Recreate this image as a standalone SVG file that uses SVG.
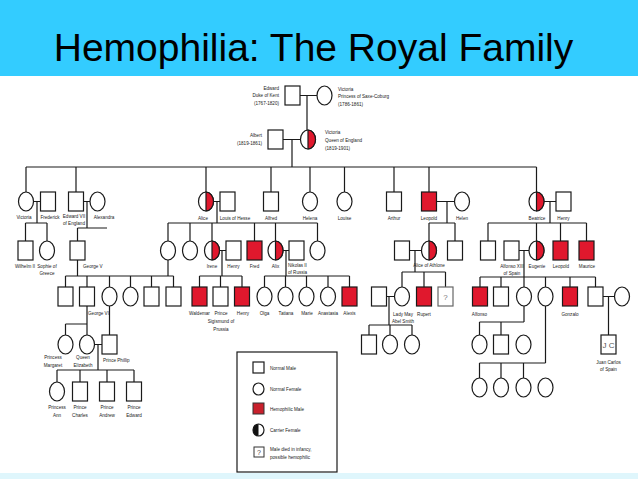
<svg xmlns="http://www.w3.org/2000/svg" width="638" height="479" viewBox="0 0 638 479">
<style>
.m{fill:#fff;stroke:#1a1a1a;stroke-width:1.2}
.f{fill:#fff;stroke:#1a1a1a;stroke-width:1.2}
.h{fill:#e0182d;stroke:#1a1a1a;stroke-width:1.2}
.c{fill:#e0182d;stroke:#1a1a1a;stroke-width:1.2}
.ln{fill:none;stroke:#1a1a1a;stroke-width:1.2}
text{font-family:"Liberation Sans",Arial,sans-serif;fill:#222}
.t{font-size:4.6px;text-anchor:middle}
.ts{font-size:4.6px}
.te{font-size:4.6px;text-anchor:end}
.lg{font-size:4.6px}
</style>
<rect x="0" y="0" width="638" height="76" fill="#33ccff"/>
<text x="313.5" y="61" font-size="39" text-anchor="middle" style="fill:#000">Hemophilia: The Royal Family</text>
<rect x="0" y="473" width="638" height="6" fill="#dff6fc"/>

<g id="connectors">
<path class="ln" d="M300,95.5H317M307,95.5V130M283,139.5H300.5M292,139.5V167M26,167H536.5
M26,167V192M76,167V192M206,167V192M271,167V192M310,167V192M344.5,167V192M394,167V192M429,167V192M536.5,167V192
M33.5,201.5H40.5M37,201.5V223M25.5,223H47M25.5,223V241M47,223V241
M83.5,201.5H90M87,201.5V228M77.5,228H107M77.5,228V241
M213.5,201.5H220M217,201.5V223M168,223H317.5M168,223V241M190,223V241M212,223V241M254.5,223V241M275.5,223V241M317.5,223V241
M436.5,201.5H454.5M447,201.5V223M429,223H455M429,223V241M455,223V241
M544,201.5H556M550,201.5V223M488,223H586.5M488,223V241M536.5,223V241M560.5,223V241M586.5,223V241
M219.5,250.5H226M222,250.5V276M199.5,276H242M199.5,276V287M220.5,276V287M242,276V287
M283,250.5H289M286,250.5V276M264.5,276H349.5M264.5,276V287M285.5,276V287M306.5,276V287M328,276V287M349.5,276V287
M77.5,260V276M65.5,276H173.5M65.5,276V287M87,276V287M109.5,276V287M130.5,276V287M151.5,276V287M173.5,276V287M168,260V276
M409.5,250.5H421.5M415,250.5V272M402,272H445.5M402,272V287M424,272V287M445.5,272V287
M519,250.5H529M524,250.5V277M480,277H595.5M480,277V287M501,277V287M524,277V287M545.5,277V287M570,277V287M595.5,277V287
M87,306V324M65.5,324H87M65.5,324V335M87,324V335M109.5,306V335
M386.5,296.5H394.5M389,296.5V325M369,325H412M369,325V335M390,325V335M412,325V335
M603,296.5H614.5M608.5,296.5V335
M524,306V322M479.5,322H524M479.5,322V335M501,322V335
M545.5,306V363M479.5,363H545.5M479.5,363V378M501,363V378M523.5,363V378
M94,344.5H102M98,344.5V370M57,370H134M57,370V382M80,370V382M107,370V382M134,370V382"/>
</g>

<!-- Generation 0 -->
<g id="edward-kent"><rect class="m" x="285" y="86" width="15" height="19"/>
<text class="te" x="279" y="90">Edward</text><text class="te" x="279" y="97">Duke of Kent</text><text class="te" x="279" y="105">(1767-1820)</text></g>
<g id="victoria-saxe"><ellipse class="f" cx="324.5" cy="95.5" rx="7.5" ry="9.5"/>
<text class="ts" x="338" y="91">Victoria</text><text class="ts" x="338" y="98">Princess of Saxe-Coburg</text><text class="ts" x="338" y="106">(1786-1861)</text></g>

<!-- Generation 1 -->
<g id="albert"><rect class="m" x="268" y="130" width="15" height="19"/>
<text class="te" x="262" y="137">Albert</text><text class="te" x="262" y="145">(1819-1861)</text></g>
<g id="queen-victoria"><ellipse class="f" cx="308" cy="139.5" rx="7.5" ry="9.5"/><path class="c" d="M308,130A7.5,9.5 0 0 1 308,149Z"/>
<text class="ts" x="325" y="134">Victoria</text><text class="ts" x="325" y="142">Queen of England</text><text class="ts" x="325" y="150">(1819-1901)</text></g>

<!-- Generation 2 -->
<g id="victoria-pr"><ellipse class="f" cx="26" cy="201.5" rx="7.5" ry="9.5"/><text class="t" x="24" y="219">Victoria</text></g>
<g id="frederick"><rect class="m" x="40.5" y="192" width="15" height="19"/><text class="t" x="50" y="219">Frederick</text></g>
<g id="edward-vii"><rect class="m" x="68.5" y="192" width="15" height="19"/><text class="t" x="74" y="218">Edward VII</text><text class="t" x="74" y="225">of England</text></g>
<g id="alexandra"><ellipse class="f" cx="97.5" cy="201.5" rx="7.5" ry="9.5"/><text class="t" x="104" y="219">Alexandra</text></g>
<g id="alice"><ellipse class="f" cx="206" cy="201.5" rx="7.5" ry="9.5"/><path class="c" d="M206,192A7.5,9.5 0 0 1 206,211Z"/><text class="t" x="203" y="220">Alice</text></g>
<g id="louis-hesse"><rect class="m" x="220" y="192" width="15" height="19"/><text class="t" x="235" y="220">Louis of Hesse</text></g>
<g id="alfred"><rect class="m" x="263.5" y="192" width="15" height="19"/><text class="t" x="271" y="220">Alfred</text></g>
<g id="helena"><ellipse class="f" cx="310" cy="201.5" rx="7.5" ry="9.5"/><text class="t" x="310" y="220">Helena</text></g>
<g id="louise"><ellipse class="f" cx="344.5" cy="201.5" rx="7.5" ry="9.5"/><text class="t" x="344.5" y="220">Louise</text></g>
<g id="arthur"><rect class="m" x="386.5" y="192" width="15" height="19"/><text class="t" x="394" y="220">Arthur</text></g>
<g id="leopold"><rect class="h" x="421.5" y="192" width="15" height="19"/><text class="t" x="429" y="220">Leopold</text></g>
<g id="helen"><ellipse class="f" cx="462" cy="201.5" rx="7.5" ry="9.5"/><text class="t" x="462" y="220">Helen</text></g>
<g id="beatrice"><ellipse class="f" cx="536.5" cy="201.5" rx="7.5" ry="9.5"/><path class="c" d="M536.5,192A7.5,9.5 0 0 1 536.5,211Z"/><text class="t" x="537" y="220">Beatrice</text></g>
<g id="henry-b"><rect class="m" x="556" y="192" width="15" height="19"/><text class="t" x="563.5" y="220">Henry</text></g>

<!-- Generation 3 -->
<g id="wilhelm-ii"><rect class="m" x="18" y="241" width="15" height="19"/><text class="t" x="25" y="268">Wilhelm II</text></g>
<g id="sophie"><ellipse class="f" cx="47" cy="250.5" rx="7.5" ry="9.5"/><text class="t" x="47" y="268">Sophie of</text><text class="t" x="47" y="275">Greece</text></g>
<g id="george-v"><rect class="m" x="70" y="241" width="15" height="19"/><text class="ts" x="83" y="268">George V</text></g>
<g id="victoria-h"><ellipse class="f" cx="168" cy="250.5" rx="7.5" ry="9.5"/></g>
<g id="ella"><ellipse class="f" cx="190" cy="250.5" rx="7.5" ry="9.5"/></g>
<g id="irene"><ellipse class="f" cx="212" cy="250.5" rx="7.5" ry="9.5"/><path class="c" d="M212,241A7.5,9.5 0 0 1 212,260Z"/><text class="t" x="212" y="268">Irene</text></g>
<g id="henry-p"><rect class="m" x="226" y="241" width="15" height="19"/><text class="t" x="233.5" y="268">Henry</text></g>
<g id="fred"><rect class="h" x="247" y="241" width="15" height="19"/><text class="t" x="254.5" y="268">Fred</text></g>
<g id="alix"><ellipse class="f" cx="275.5" cy="250.5" rx="7.5" ry="9.5"/><path class="c" d="M275.5,241A7.5,9.5 0 0 1 275.5,260Z"/><text class="t" x="275.5" y="268">Alix</text></g>
<g id="nikolas-ii"><rect class="m" x="289" y="241" width="15" height="19"/><text class="ts" x="288" y="267">Nikolas II</text><text class="ts" x="288" y="274">of Russia</text></g>
<g id="marie-h"><ellipse class="f" cx="317.5" cy="250.5" rx="7.5" ry="9.5"/></g>
<g id="athlone"><rect class="m" x="394.5" y="241" width="15" height="19"/></g>
<g id="alice-athlone"><ellipse class="f" cx="429" cy="250.5" rx="7.5" ry="9.5"/><path class="c" d="M429,241A7.5,9.5 0 0 1 429,260Z"/><text class="t" x="429" y="267">Alice of Athlone</text></g>
<g id="charles-edward"><rect class="m" x="447.5" y="241" width="15" height="19"/></g>
<g id="alexander-b"><rect class="m" x="480.5" y="241" width="15" height="19"/></g>
<g id="alfonso-xiii"><rect class="m" x="504" y="241" width="15" height="19"/><text class="t" x="512" y="268">Alfonso XIII</text><text class="t" x="512" y="275">of Spain</text></g>
<g id="eugenie"><ellipse class="f" cx="536.5" cy="250.5" rx="7.5" ry="9.5"/><path class="c" d="M536.5,241A7.5,9.5 0 0 1 536.5,260Z"/><text class="t" x="537" y="268">Eugenie</text></g>
<g id="leopold-b"><rect class="h" x="553" y="241" width="15" height="19"/><text class="t" x="561" y="268">Leopold</text></g>
<g id="maurice"><rect class="h" x="579" y="241" width="15" height="19"/><text class="t" x="587" y="268">Maurice</text></g>

<!-- Generation 4 -->
<g id="gv-c1"><rect class="m" x="58" y="287" width="15" height="19"/></g>
<g id="george-vi"><rect class="m" x="79.5" y="287" width="15" height="19"/><text class="ts" x="88" y="315">George VI</text></g>
<g id="gv-c3"><ellipse class="f" cx="109.5" cy="296.5" rx="7.5" ry="9.5"/></g>
<g id="gv-c4"><ellipse class="f" cx="130.5" cy="296.5" rx="7.5" ry="9.5"/></g>
<g id="gv-c5"><rect class="m" x="144" y="287" width="15" height="19"/></g>
<g id="gv-c6"><rect class="m" x="166" y="287" width="15" height="19"/></g>
<g id="waldemar"><rect class="h" x="192" y="287" width="15" height="19"/><text class="t" x="199.5" y="315">Waldemar</text></g>
<g id="sigismund"><rect class="m" x="213" y="287" width="15" height="19"/><text class="t" x="221" y="315">Prince</text><text class="t" x="221" y="323">Sigismund of</text><text class="t" x="221" y="331">Prussia</text></g>
<g id="henry-i"><rect class="h" x="234.5" y="287" width="15" height="19"/><text class="t" x="243" y="315">Henry</text></g>
<g id="olga"><ellipse class="f" cx="264.5" cy="296.5" rx="7.5" ry="9.5"/><text class="t" x="264.5" y="315">Olga</text></g>
<g id="tatiana"><ellipse class="f" cx="285.5" cy="296.5" rx="7.5" ry="9.5"/><text class="t" x="286" y="315">Tatiana</text></g>
<g id="marie"><ellipse class="f" cx="306.5" cy="296.5" rx="7.5" ry="9.5"/><text class="t" x="307" y="315">Marie</text></g>
<g id="anastasia"><ellipse class="f" cx="328" cy="296.5" rx="7.5" ry="9.5"/><text class="t" x="328" y="315">Anastasia</text></g>
<g id="alexis"><rect class="h" x="342" y="287" width="15" height="19"/><text class="t" x="349.5" y="315">Alexis</text></g>
<g id="abel-smith"><rect class="m" x="371.5" y="287" width="15" height="19"/></g>
<g id="lady-may"><ellipse class="f" cx="402" cy="296.5" rx="7.5" ry="9.5"/><text class="t" x="403" y="316">Lady May</text><text class="t" x="403" y="323">Abel Smith</text></g>
<g id="rupert"><rect class="h" x="416.5" y="287" width="15" height="19"/><text class="t" x="424" y="316">Rupert</text></g>
<g id="maurice-a"><rect x="438" y="287" width="15" height="19" fill="#fff" stroke="#666" stroke-width="1.2"/><text x="445.5" y="300" font-size="8" text-anchor="middle" style="fill:#777">?</text></g>
<g id="alfonso"><rect class="h" x="472.5" y="287" width="15" height="19"/><text class="t" x="479.5" y="316">Alfonso</text></g>
<g id="jaime"><rect class="m" x="493.5" y="287" width="15" height="19"/></g>
<g id="beatriz"><ellipse class="f" cx="524" cy="296.5" rx="7.5" ry="9.5"/></g>
<g id="maria-cristina"><ellipse class="f" cx="545.5" cy="296.5" rx="7.5" ry="9.5"/></g>
<g id="gonzalo"><rect class="h" x="562.5" y="287" width="15" height="19"/><text class="t" x="570" y="316">Gonzalo</text></g>
<g id="juan"><rect class="m" x="588" y="287" width="15" height="19"/></g>
<g id="maria-mercedes"><ellipse class="f" cx="622" cy="296.5" rx="7.5" ry="9.5"/></g>

<!-- Generation 5 -->
<g id="margaret"><ellipse class="f" cx="65.5" cy="344.5" rx="7.5" ry="9.5"/><text class="t" x="53" y="359">Princess</text><text class="t" x="53" y="367">Margaret</text></g>
<g id="elizabeth"><ellipse class="f" cx="87" cy="344.5" rx="7.5" ry="9.5"/><text class="t" x="83" y="359">Queen</text><text class="t" x="83" y="367">Elizabeth</text></g>
<g id="philip"><rect class="m" x="102" y="335" width="15" height="19"/><text class="ts" x="103" y="362">Prince Phillip</text></g>
<g id="lm-c1"><rect class="m" x="361.5" y="335" width="15" height="19"/></g>
<g id="lm-c2"><ellipse class="f" cx="390" cy="344.5" rx="7.5" ry="9.5"/></g>
<g id="lm-c3"><ellipse class="f" cx="412" cy="344.5" rx="7.5" ry="9.5"/></g>
<g id="bz-c1"><ellipse class="f" cx="479.5" cy="344.5" rx="7.5" ry="9.5"/></g>
<g id="bz-c2"><rect class="m" x="493.5" y="335" width="15" height="19"/></g>
<g id="bz-c3"><ellipse class="f" cx="523.5" cy="344.5" rx="7.5" ry="9.5"/></g>
<g id="juan-carlos"><rect class="m" x="601" y="335" width="15" height="19"/><text x="608.5" y="348" font-size="8" text-anchor="middle" style="fill:#555">J C</text><text class="t" x="608.5" y="364">Juan Carlos</text><text class="t" x="608.5" y="371">of Spain</text></g>

<!-- Generation 6 -->
<g id="anne"><ellipse class="f" cx="57" cy="391.5" rx="7.5" ry="9.5"/><text class="t" x="57" y="409">Princess</text><text class="t" x="57" y="417">Ann</text></g>
<g id="charles"><rect class="m" x="72.5" y="382" width="15" height="19"/><text class="t" x="80" y="409">Prince</text><text class="t" x="80" y="417">Charles</text></g>
<g id="andrew"><rect class="m" x="99.5" y="382" width="15" height="19"/><text class="t" x="107" y="409">Prince</text><text class="t" x="107" y="417">Andrew</text></g>
<g id="edward-p"><rect class="m" x="126.5" y="382" width="15" height="19"/><text class="t" x="134" y="409">Prince</text><text class="t" x="134" y="417">Edward</text></g>
<g id="mc-c1"><ellipse class="f" cx="479.5" cy="387.5" rx="7.5" ry="9.5"/></g>
<g id="mc-c2"><ellipse class="f" cx="501" cy="387.5" rx="7.5" ry="9.5"/></g>
<g id="mc-c3"><ellipse class="f" cx="523.5" cy="387.5" rx="7.5" ry="9.5"/></g>
<g id="mc-c4"><ellipse class="f" cx="545.5" cy="387.5" rx="7.5" ry="9.5"/></g>

<!-- Legend -->
<g id="legend">
<rect x="237" y="352" width="100" height="120" fill="#fff" stroke="#1a1a1a" stroke-width="1.2"/>
<rect class="m" x="253" y="362" width="11" height="11"/><text class="lg" x="270" y="370">Normal Male</text>
<ellipse class="f" cx="258.5" cy="389" rx="5.5" ry="6"/><text class="lg" x="270" y="391">Normal Female</text>
<rect x="253" y="403" width="11" height="11" fill="#c8202c" stroke="#333" stroke-width="1"/><text class="lg" x="270" y="411">Hemophilic Male</text>
<ellipse class="f" cx="258.5" cy="430" rx="5.5" ry="6"/><path d="M258.5,424A5.5,6 0 0 0 258.5,436Z" fill="#111"/><text class="lg" x="270" y="432">Carrier Female</text>
<rect x="254" y="447" width="10" height="10" fill="#fff" stroke="#333" stroke-width="1"/><text x="259" y="455" font-size="7" text-anchor="middle" style="fill:#444">?</text>
<text class="lg" x="270" y="451">Male died in infancy,</text><text class="lg" x="270" y="459">possible hemophilic</text>
</g>
</svg>
